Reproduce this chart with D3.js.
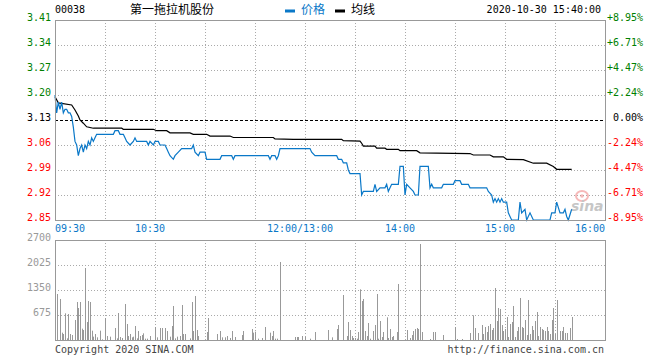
<!DOCTYPE html>
<html><head><meta charset="utf-8">
<script src="https://cdnjs.cloudflare.com/ajax/libs/d3/7.8.5/d3.min.js"></script>
<style>body{margin:0;background:#fff}svg{display:block}</style>
</head><body><svg id="c" width="660" height="360"></svg>
<script>
// ---- data ----
const stockCode = "00038";
const stockName = "第一拖拉机股份";
const stamp = "2020-10-30 15:40:00";
const prevClose = 3.13;
const priceTicks = [3.41, 3.34, 3.27, 3.20, 3.13, 3.06, 2.99, 2.92, 2.85];
const pctLabels = ["+8.95%", "+6.71%", "+4.47%", "+2.24%", "0.00%", "-2.24%", "-4.47%", "-6.71%", "-8.95%"];
const volTicks = [2700, 2025, 1350, 675];
const timeLabels = ["09:30", "10:30", "12:00/13:00", "14:00", "15:00", "16:00"];
const timeLabelMin = [0, 60, 150, 210, 270, 330];
const gridMin = [30, 60, 90, 120, 150, 180, 210, 240, 270, 300];
// [minute since open (lunch removed), price]
const price = [[0,3.20],[1,3.15],[2,3.18],[3,3.16],[4,3.18],[5,3.15],[6,3.16],[7,3.16],[8,3.15],[9,3.15],[10,3.14],[11,3.11],[12,3.07],[13,3.06],[14,3.03],[15,3.05],[16,3.06],[17,3.04],[18,3.06],[19,3.05],[20,3.07],[21,3.06],[22,3.08],[23,3.07],[24,3.08],[25,3.09],[35,3.09],[36,3.10],[38,3.10],[39,3.09],[41,3.09],[42,3.08],[43,3.07],[45,3.06],[47,3.07],[48,3.08],[49,3.07],[55,3.07],[56,3.06],[57,3.07],[59,3.06],[60,3.07],[62,3.07],[63,3.06],[66,3.06],[67,3.05],[68,3.04],[69,3.03],[71,3.02],[72,3.03],[74,3.04],[76,3.05],[82,3.05],[83,3.06],[84,3.04],[86,3.03],[87,3.04],[90,3.04],[91,3.02],[99,3.02],[100,3.03],[106,3.03],[107,3.02],[108,3.03],[128,3.03],[129,3.02],[130,3.03],[132,3.03],[133,3.02],[134,3.03],[135,3.05],[153,3.05],[154,3.04],[156,3.03],[169,3.03],[170,3.02],[172,3.02],[173,3.01],[175,3.01],[176,2.99],[177,2.98],[183,2.98],[184,2.92],[185,2.93],[191,2.93],[192,2.95],[193,2.93],[195,2.94],[198,2.94],[199,2.95],[200,2.93],[201,2.94],[202,2.95],[206,2.95],[207,3.00],[209,3.00],[210,2.92],[211,2.95],[213,2.94],[215,2.93],[216,2.92],[218,2.92],[219,3.00],[224,3.00],[225,2.94],[226,2.95],[227,2.94],[232,2.94],[233,2.95],[239,2.95],[240,2.96],[243,2.96],[244,2.95],[248,2.95],[249,2.94],[259,2.94],[260,2.93],[262,2.92],[263,2.90],[264,2.91],[265,2.90],[266,2.91],[267,2.90],[268,2.91],[269,2.90],[271,2.90],[272,2.87],[273,2.86],[274,2.85],[278,2.85],[279,2.90],[280,2.87],[282,2.88],[283,2.85],[285,2.87],[287,2.85],[297,2.85],[298,2.87],[300,2.87],[301,2.90],[303,2.87],[305,2.87],[306,2.88],[307,2.86],[308,2.85],[310,2.88]];
const avgLine = [[0,3.195],[2,3.178],[10,3.172],[12,3.158],[14,3.141],[15,3.13],[17,3.121],[19,3.111],[23,3.107],[40,3.107],[41,3.104],[59,3.104],[61,3.100],[67,3.100],[69,3.094],[81,3.094],[83,3.090],[91,3.090],[93,3.085],[105,3.085],[107,3.081],[131,3.081],[132,3.077],[143,3.076],[172,3.076],[173,3.072],[183,3.071],[184,3.065],[185,3.057],[192,3.057],[193,3.051],[198,3.051],[199,3.048],[206,3.048],[207,3.044],[217,3.044],[219,3.038],[249,3.036],[251,3.032],[261,3.032],[263,3.027],[269,3.027],[271,3.020],[281,3.019],[287,3.009],[295,3.009],[299,3.000],[301,2.992],[310,2.992]];
// [minute, volume]
const volume = [[1,1242],[3,1107],[4,198],[5,162],[6,720],[7,45],[8,702],[9,162],[10,135],[12,540],[13,1026],[14,864],[15,1026],[16,306],[17,270],[18,1944],[19,486],[20,1053],[21,1026],[22,252],[23,90],[24,162],[25,72],[27,252],[28,18],[30,594],[31,108],[33,90],[36,324],[37,45],[38,729],[39,81],[40,54],[42,972],[43,432],[44,108],[45,162],[46,72],[47,90],[48,378],[49,45],[50,243],[51,108],[52,135],[53,180],[54,36],[55,36],[57,108],[60,351],[61,72],[63,324],[64,324],[66,324],[67,243],[69,90],[70,378],[71,918],[72,45],[73,90],[75,108],[76,945],[77,162],[78,162],[81,45],[82,1026],[83,243],[84,1188],[85,270],[86,108],[91,216],[92,594],[97,162],[99,243],[100,72],[102,72],[103,108],[105,54],[106,243],[108,81],[112,135],[113,243],[118,297],[119,198],[120,225],[122,36],[124,54],[126,351],[129,198],[130,108],[131,243],[132,36],[133,36],[135,2106],[144,81],[145,81],[146,81],[148,108],[150,90],[153,36],[156,216],[164,270],[166,72],[169,297],[170,405],[173,1215],[175,108],[176,486],[177,270],[178,108],[179,54],[180,54],[181,36],[182,216],[183,1368],[184,1053],[185,1107],[186,243],[187,108],[188,459],[189,36],[191,243],[192,405],[193,1242],[194,36],[195,513],[196,81],[197,216],[199,612],[200,54],[201,297],[202,81],[203,108],[205,216],[206,1512],[211,270],[213,54],[214,135],[215,243],[216,297],[217,324],[218,297],[219,2592],[220,216],[225,27],[227,216],[228,216],[233,135],[240,351],[241,27],[244,27],[249,189],[251,666],[252,324],[254,189],[256,405],[257,162],[258,351],[259,216],[260,378],[261,432],[262,270],[263,324],[264,1404],[265,513],[266,864],[267,837],[268,405],[269,243],[270,297],[271,621],[272,81],[273,432],[274,486],[275,918],[276,81],[277,243],[278,351],[279,1134],[280,351],[281,324],[282,540],[283,135],[284,1080],[285,162],[286,378],[287,270],[288,513],[289,756],[290,108],[291,351],[292,297],[293,270],[294,243],[295,351],[296,243],[297,162],[298,540],[299,864],[300,162],[301,1080],[303,243],[304,243],[305,351],[306,189],[307,189],[309,324],[310,621]];

// ---- drawing ----
const svg = d3.select("#c");
const mono = "'DejaVu Sans Mono', monospace";
const cjk = "'Noto Sans CJK SC', sans-serif";
const L = 55, R = 605;
const x = d3.scaleLinear().domain([0, 330]).range([L, R]);
const y = d3.scaleLinear().domain([2.85, 3.41]).range([220, 20]);
const yv = d3.scaleLinear().domain([0, 2700]).range([340, 240]);
const px = v => Math.round(v) + 0.5;

const gridCol = "#aaa", frameCol = "#999";

// price grid
const g = svg.append("g");
g.selectAll(".hg").data(priceTicks.filter(d => d !== 3.41 && d !== 2.85 && d !== prevClose)).join("line")
  .attr("x1", L).attr("x2", R).attr("y1", d => px(y(d))).attr("y2", d => px(y(d)))
  .attr("stroke", gridCol).attr("stroke-dasharray", "1,2");
g.selectAll(".vg").data(gridMin).join("line")
  .attr("x1", d => px(x(d))).attr("x2", d => px(x(d))).attr("y1", 20).attr("y2", 220)
  .attr("stroke", gridCol).attr("stroke-dasharray", "1,2");
// volume grid
g.selectAll(".hvg").data(volTicks.filter(d => d !== 2700)).join("line")
  .attr("x1", L).attr("x2", R).attr("y1", d => px(yv(d))).attr("y2", d => px(yv(d)))
  .attr("stroke", gridCol).attr("stroke-dasharray", "1,2");
g.selectAll(".vvg").data(gridMin).join("line")
  .attr("x1", d => px(x(d))).attr("x2", d => px(x(d))).attr("y1", 240).attr("y2", 340)
  .attr("stroke", gridCol).attr("stroke-dasharray", "1,2");

// sina watermark
const wm = svg.append("g").attr("opacity", 0.55);
wm.append("ellipse").attr("cx", 582).attr("cy", 196).attr("rx", 6).attr("ry", 5).attr("fill", "none").attr("stroke", "#f08080").attr("stroke-width", 2);
wm.append("circle").attr("cx", 582).attr("cy", 196).attr("r", 1.8).attr("fill", "#f08080");
wm.append("text").attr("x", 571).attr("y", 211).attr("font-family", "'DejaVu Sans', sans-serif").attr("font-size", 14)
  .attr("font-weight", "bold").attr("font-style", "italic").attr("fill", "#999").text("sina");

// prev close line
svg.append("line").attr("x1", L).attr("x2", R).attr("y1", px(y(prevClose))).attr("y2", px(y(prevClose)))
  .attr("stroke", "#000").attr("stroke-dasharray", "3,2");

// volume bars
svg.append("g").selectAll("line").data(volume).join("line")
  .attr("x1", d => px(x(d[0]))).attr("x2", d => px(x(d[0])))
  .attr("y1", yv(0)).attr("y2", d => yv(d[1]))
  .attr("stroke", "#999").attr("stroke-width", 1);

// lines
const line = d3.line().x(d => x(d[0])).y(d => y(d[1]));
svg.append("path").datum(avgLine).attr("d", line).attr("fill", "none").attr("stroke", "#000").attr("stroke-width", 1.2);
svg.append("path").datum(price).attr("d", line).attr("fill", "none").attr("stroke", "#0a78c8").attr("stroke-width", 1.2);

// frames
svg.append("rect").attr("x", L + 0.5).attr("y", 20.5).attr("width", R - L).attr("height", 200)
  .attr("fill", "none").attr("stroke", frameCol);
svg.append("rect").attr("x", L + 0.5).attr("y", 240.5).attr("width", R - L).attr("height", 100)
  .attr("fill", "none").attr("stroke", frameCol);

// price labels
const colFor = d => d > prevClose + 1e-9 ? "#008000" : (d < prevClose - 1e-9 ? "#ff0000" : "#000");
svg.append("g").selectAll("text").data(priceTicks).join("text")
  .attr("x", 51).attr("y", d => y(d) + 0.5).attr("text-anchor", "end")
  .attr("font-family", mono).attr("font-size", 10).attr("fill", colFor).text(d => d.toFixed(2));
svg.append("g").selectAll("text").data(priceTicks).join("text")
  .attr("x", 643).attr("y", d => y(d) + 0.5).attr("text-anchor", "end")
  .attr("font-family", mono).attr("font-size", 10).attr("fill", colFor).text((d, i) => pctLabels[i]);
// volume labels
svg.append("g").selectAll("text").data(volTicks).join("text")
  .attr("x", 51).attr("y", d => yv(d) + 0.5).attr("text-anchor", "end")
  .attr("font-family", mono).attr("font-size", 10).attr("fill", "#999").text(d => d);
// time labels
svg.append("g").selectAll("text").data(timeLabels).join("text")
  .attr("x", (d, i) => i === 0 ? x(timeLabelMin[i]) : (i === timeLabels.length - 1 ? x(timeLabelMin[i]) : x(timeLabelMin[i]) - 5))
  .attr("y", 232)
  .attr("text-anchor", (d, i) => i === 0 ? "start" : (i === timeLabels.length - 1 ? "end" : "middle"))
  .attr("font-family", mono).attr("font-size", 10).attr("fill", "#0a78c8").text(d => d);

// header
svg.append("text").attr("x", 55).attr("y", 12.5).attr("font-family", mono).attr("font-size", 10).attr("fill", "#000").text(stockCode);
svg.append("text").attr("x", 130).attr("y", 13.5).attr("font-family", cjk).attr("font-size", 12).attr("fill", "#000").text(stockName);
svg.append("rect").attr("x", 285).attr("y", 9.5).attr("width", 10).attr("height", 3).attr("fill", "#0a78c8");
svg.append("text").attr("x", 301).attr("y", 13.5).attr("font-family", cjk).attr("font-size", 12).attr("fill", "#0a78c8").text("价格");
svg.append("rect").attr("x", 335).attr("y", 9.5).attr("width", 10).attr("height", 3).attr("fill", "#000");
svg.append("text").attr("x", 351).attr("y", 13.5).attr("font-family", cjk).attr("font-size", 12).attr("fill", "#000").text("均线");
svg.append("text").attr("x", 601).attr("y", 12.5).attr("text-anchor", "end").attr("font-family", mono).attr("font-size", 10).attr("fill", "#000").text(stamp);

// footer
svg.append("text").attr("x", 55).attr("y", 353).attr("font-family", mono).attr("font-size", 10).attr("fill", "#444").text("Copyright 2020 SINA.COM");
svg.append("text").attr("x", 604).attr("y", 353).attr("text-anchor", "end").attr("font-family", mono).attr("font-size", 10).attr("fill", "#444").text("http://finance.sina.com.cn");
</script></body></html>
